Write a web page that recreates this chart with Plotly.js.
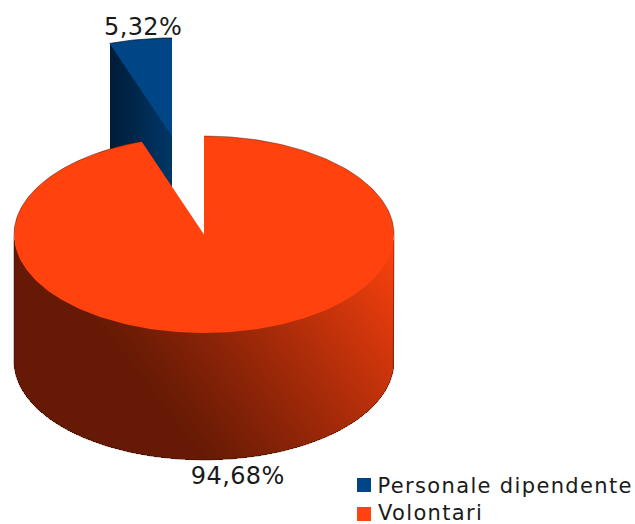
<!DOCTYPE html>
<html>
<head>
<meta charset="utf-8">
<script src="https://cdn.plot.ly/plotly-3.0.1.min.js"></script>
<style>
html,body{margin:0;padding:0;background:#fff;overflow:hidden}
/* Tracking for the value labels and the wider key text */
.annotation .annotation-text{letter-spacing:0.4px}
.annotation[data-index="2"] .annotation-text,
.annotation[data-index="3"] .annotation-text{letter-spacing:1.35px}
</style>
</head>
<body>
<div id="chart" style="width:635px;height:524px"></div>
<script>
// Shares of the two groups, in percent
const categories = ['Personale dipendente', 'Volontari'];
const shares = [5.32, 94.68];
const colors = ['#004586', '#ff420e'];

// Drum geometry, in axis units
const W = 635, H = 524;
const cx = 204, cy = 234.5, rx = 190, ry = 98.5, depth = 127;
const explode = {dx: -32, dy: -98};

const rad = d => d * Math.PI / 180;
const onRim = (deg, ox = 0, oy = 0) => [cx + ox + rx * Math.sin(rad(deg)), cy + oy - ry * Math.cos(rad(deg))];
const label = v => v.toFixed(2).replace('.', ',') + '%';

// The orange sector runs clockwise from twelve o'clock; the blue one closes the circle
const split = shares[1] / 100 * 360;

function arc(from, to, ox, oy) {
  const xs = [], ys = [];
  const n = Math.ceil(Math.abs(to - from));
  for (let i = 0; i <= n; i++) {
    const p = onRim(from + (to - from) * i / n, ox, oy);
    xs.push(p[0]); ys.push(p[1]);
  }
  return {x: xs, y: ys};
}

function sectorPolygon(from, to, ox, oy) {
  const a = arc(from, to, ox, oy);
  return {x: [cx + ox, ...a.x, cx + ox], y: [cy + oy, ...a.y, cy + oy]};
}

// Shaded outer wall of the big sector: one cell per pixel, empty outside the wall
const wallX = [], wallY = [], wallZ = [];
for (let x = cx - rx; x < cx + rx; x++) wallX.push(x + 0.5);
for (let y = Math.floor(cy); y < cy + ry + depth + 2; y++) wallY.push(y + 0.5);
for (const y of wallY) {
  wallZ.push(wallX.map(x => {
    const u = (x - cx) / rx;
    const rim = cy + ry * Math.sqrt(Math.max(0, 1 - u * u));
    if (y < rim - 2 || y > rim + depth) return null;
    const s = ((x - 87) * 0.79 - (y - 310) * 0.61) / 288;
    return Math.pow(Math.min(1, Math.max(0, s)), 1.12);
  }));
}

// Cut face of the exploded sector, seen through the notch
const tip = [cx + explode.dx, cy + explode.dy];
const edge = onRim(split, explode.dx, explode.dy);
const faceX = [], faceY = [], faceZ = [];
for (let x = Math.round(edge[0]); x < tip[0]; x++) faceX.push(x + 0.5);
for (let y = Math.floor(edge[1]); y < tip[1] + depth; y++) faceY.push(y + 0.5);
for (const y of faceY) {
  faceZ.push(faceX.map(x => {
    const t = (x - edge[0]) / (tip[0] - edge[0]);
    const top = edge[1] + t * (tip[1] - edge[1]);
    if (y < top - 1 || y > top + depth) return null;
    return Math.min(1, Math.max(0, t));
  }));
}

const blueTop = sectorPolygon(split, 360, explode.dx, explode.dy);
const orangeTop = sectorPolygon(0, split, 0, 0);
const blueRim = arc(split, 360, explode.dx, explode.dy);
// Only the back half of the big rim stands against the white page
const backRimA = arc(270, split, 0, 0);
const backRimB = arc(0, 90, 0, 0);
const lowerRim = arc(90, 270, 0, depth);
const outline = {
  x: [cx + rx, ...lowerRim.x, cx - rx],
  y: [cy, ...lowerRim.y, cy]
};

// Key sits in the lower right corner
const keyX = 364, keyY = [485, 514], keyTextX = 376.5, keyTracking = 1.35;
const keyTextY = [486, 513];

const traces = [
  {type: 'heatmap', x: faceX, y: faceY, z: faceZ, zmin: 0, zmax: 1, showscale: false, hoverinfo: 'skip',
   colorscale: [[0, '#001c38'], [1, '#003767']]},
  {type: 'heatmap', x: wallX, y: wallY, z: wallZ, zmin: 0, zmax: 1, showscale: false, hoverinfo: 'skip',
   colorscale: [[0, '#661a05'], [1, '#ff420e']]},
  {type: 'scatter', mode: 'lines', x: blueTop.x, y: blueTop.y, fill: 'toself', fillcolor: colors[0], line: {width: 0}, hoverinfo: 'skip'},
  {type: 'scatter', mode: 'lines', x: blueRim.x, y: blueRim.y, line: {width: 1, color: 'rgba(0,10,30,0.7)'}, hoverinfo: 'skip'},
  {type: 'scatter', mode: 'lines', x: outline.x, y: outline.y, line: {width: 0.8, color: 'rgba(40,10,0,0.6)'}, hoverinfo: 'skip'},
  {type: 'scatter', mode: 'lines', x: orangeTop.x, y: orangeTop.y, fill: 'toself', fillcolor: colors[1], line: {width: 0}, hoverinfo: 'skip'},
  {type: 'scatter', mode: 'lines', x: backRimA.x, y: backRimA.y, line: {width: 0.8, color: 'rgba(40,10,0,0.5)'}, hoverinfo: 'skip'},
  {type: 'scatter', mode: 'lines', x: backRimB.x, y: backRimB.y, line: {width: 0.8, color: 'rgba(40,10,0,0.5)'}, hoverinfo: 'skip'},
  {type: 'scatter', mode: 'markers', x: categories.map(() => keyX), y: keyY, hoverinfo: 'skip',
   marker: {symbol: 'square', size: 14, color: colors}}
];

const font = '"DejaVu Sans", Verdana, sans-serif';
const ink = '#1a1a1a';
const annotations = [
  {x: 142.5, y: 27, text: label(shares[0]), showarrow: false, font: {family: font, size: 24, color: ink}},
  {x: 238, y: 476, text: label(shares[1]), showarrow: false, font: {family: font, size: 24, color: ink}},
  // Tracking widens the text around its centre, so the box start moves by half of it
  ...categories.map((c, i) => ({x: keyTextX + c.length * keyTracking / 2, y: keyTextY[i], xanchor: 'left', borderpad: 0,
    text: c, showarrow: false, font: {family: font, size: 21, color: ink}}))
];

const layout = {
  width: W, height: H,
  margin: {l: 0, r: 0, t: 0, b: 0, autoexpand: false},
  paper_bgcolor: '#fff', plot_bgcolor: '#fff',
  xaxis: {range: [0, W], visible: false, fixedrange: true},
  yaxis: {range: [H, 0], visible: false, fixedrange: true},
  showlegend: false,
  annotations
};

Plotly.newPlot('chart', traces, layout, {displayModeBar: false, staticPlot: true});
</script>
</body>
</html>
